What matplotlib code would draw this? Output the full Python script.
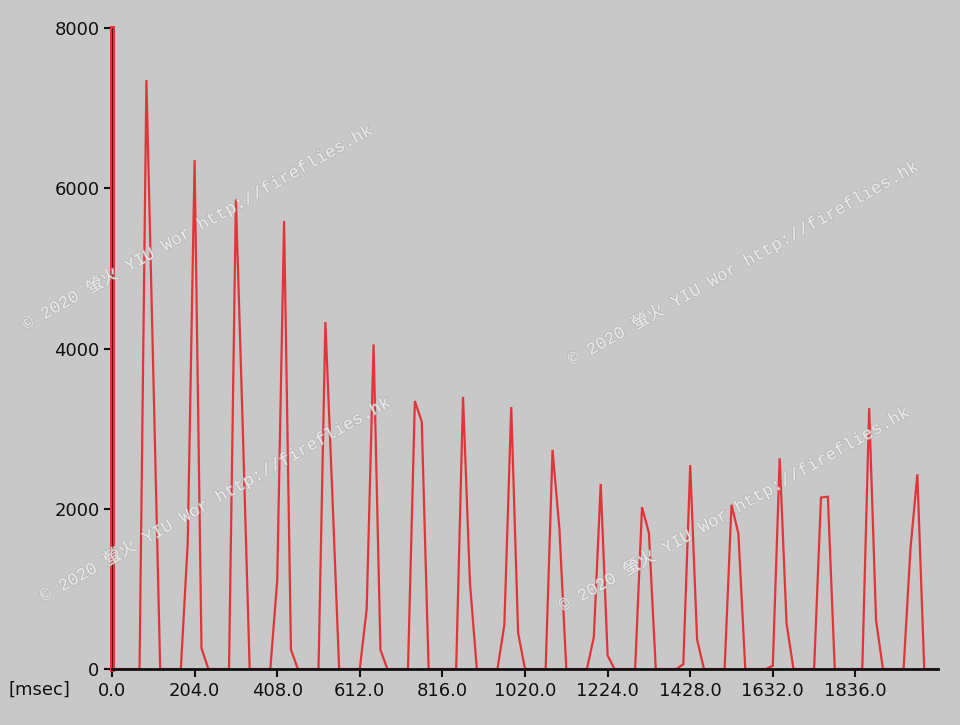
import numpy as np
import matplotlib
matplotlib.use("Agg")
import matplotlib.pyplot as plt
import matplotlib.patheffects as pe

# ---- data ----
sample_ms = 17  # sampling interval (msec)
values = [
    0, 0, 0, 0, 0, 7350, 3700, 0, 0, 0,          # 0-9
    0, 1570, 6350, 260, 0, 0, 0, 0, 5860, 3000,   # 10-19
    0, 0, 0, 0, 1100, 5590, 240, 0, 0, 0,         # 20-29
    0, 4330, 2200, 0, 0, 0, 0, 750, 4050, 240,    # 30-39
    0, 0, 0, 0, 3345, 3085, 0, 0, 0, 0,           # 40-49
    0, 3395, 1080, 0, 0, 0, 0, 550, 3270, 450,    # 50-59
    0, 0, 0, 0, 2735, 1750, 0, 0, 0, 0,           # 60-69
    400, 2310, 170, 0, 0, 0, 0, 2020, 1700, 0,    # 70-79
    0, 0, 0, 60, 2545, 370, 0, 0, 0, 0,           # 80-89
    2050, 1690, 0, 0, 0, 0, 40, 2630, 570, 0,     # 90-99
    0, 0, 0, 2140, 2150, 0, 0, 0, 0, 0,           # 100-109
    3255, 610, 0, 0, 0, 0, 1500, 2430, 0, 0,      # 110-119
    0,                                            # 120
]
x_ticks = [0, 204, 408, 612, 816, 1020, 1224, 1428, 1632, 1836]
x_tick_labels = ["0.0", "204.0", "408.0", "612.0", "816.0", "1020.0",
                 "1224.0", "1428.0", "1632.0", "1836.0"]
y_ticks = [0, 2000, 4000, 6000, 8000]
y_tick_labels = ["0", "2000", "4000", "6000", "8000"]
x_max = 2040
y_max = 8000
watermark = "© 2020 螢火 YIU Wor http://fireflies.hk"

times = np.arange(len(values)) * sample_ms

# ---- figure ----
bg = "#c8c8c8"
fig = plt.figure(figsize=(9.6, 7.25), dpi=100, facecolor=bg)
ax = fig.add_axes([112/960, 1-669/725, (938-112)/960, (669-28)/725])
ax.set_facecolor(bg)

ax.plot(times, values, color="#e3343a", lw=1.6, solid_joinstyle="miter",
        zorder=2, clip_on=False)

ax.set_xlim(0, x_max)
ax.set_ylim(0, y_max)
ax.set_xticks(x_ticks)
ax.set_xticklabels(x_tick_labels)
ax.set_yticks(y_ticks)
ax.set_yticklabels(y_tick_labels)

for s in ("top", "right"):
    ax.spines[s].set_visible(False)
ax.spines["bottom"].set_color("#111111")
ax.spines["bottom"].set_linewidth(2.0)
ax.spines["bottom"].set_zorder(5)
ax.spines["left"].set_color("#e3343a")
ax.spines["left"].set_linewidth(3.6)
ax.axvline(0, color="#5a0a0a", lw=1.3, zorder=4)

ax.tick_params(axis="x", direction="out", length=6, width=1.5, color="#111111",
               pad=3, labelsize=13, labelcolor="#111111")
ax.tick_params(axis="y", direction="out", length=6, width=1.5, color="#111111",
               pad=3, labelsize=13, labelcolor="#111111")
for lbl in ax.get_xticklabels() + ax.get_yticklabels():
    lbl.set_family("DejaVu Sans")

fig.text(8/960, 1-690/725, "[msec]", fontsize=13, color="#111111",
         ha="left", va="center", family="DejaVu Sans")

# watermarks
wm_pos = [(26, 330), (572, 366), (44, 602), (563, 612)]
for (px, py) in wm_pos:
    fig.text(px/960, 1-py/725, watermark, rotation=29.5, rotation_mode="anchor",
             ha="left", va="baseline", fontsize=12.5, color="white", alpha=0.6,
             family=["Liberation Mono", "Noto Sans CJK TC"], zorder=10,
             path_effects=[pe.withStroke(linewidth=1.4, foreground="#b0b0b0", alpha=0.5)])

fig.savefig("out.png", dpi=100, facecolor=bg)
